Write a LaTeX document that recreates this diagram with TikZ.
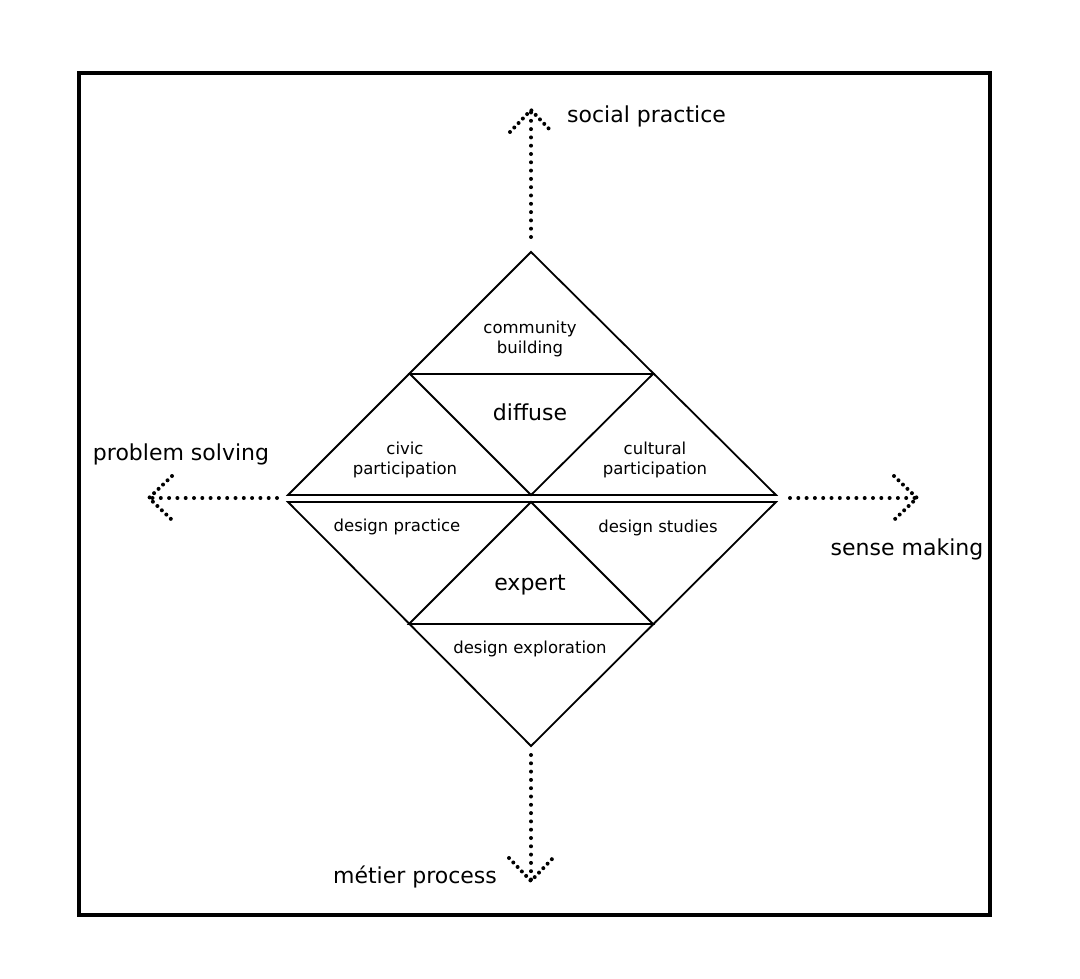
\documentclass[tikz,border=0pt]{standalone}
\usepackage{fontspec}
\setmainfont{DejaVu Sans}
\usetikzlibrary{positioning}
\tikzset{%
   edge/.style={line width=1.8pt, line join=miter},
   dotline/.style={line width=4pt, line cap=round, dash pattern=on 0pt off 8.3pt},
   dothead/.style={dotline, dash pattern=on 0pt off 6.2pt},
   axislabel/.style={font=\fontsize{22}{26}\selectfont, inner sep=0pt},
   part/.style={font=\fontsize{16.5}{20.5}\selectfont, align=center, inner sep=0pt},
   kind/.style={font=\fontsize{22}{26}\selectfont, inner sep=0pt},
}
\begin{document}
\begin{tikzpicture}[x=1pt, y=-1pt]
   \useasboundingbox (0,0) rectangle (1080,979);
   \draw[line width=3.4pt] (79,73) rectangle (990,915);
   % upper triangle
   \coordinate (top) at (531,252);
   \coordinate (ul) at (288,495);
   \coordinate (ur) at (776,495);
   \coordinate (ml) at (410,374);
   \coordinate (mr) at (653,374);
   \coordinate (cu) at (531,495);
   \draw[edge] (ul) -- (top) -- (ur) -- cycle;
   \draw[edge] (ml) -- (mr) -- (cu) -- cycle;
   % lower triangle
   \coordinate (bot) at (531,746);
   \coordinate (ll) at (288,502);
   \coordinate (lr) at (776,502);
   \coordinate (bl) at (409,624);
   \coordinate (br) at (653,624);
   \coordinate (cl) at (531,502);
   \draw[edge] (ll) -- (bot) -- (lr) -- cycle;
   \draw[edge] (bl) -- (br) -- (cl) -- cycle;
   % parts
   \node[part] (comm) at (530,339) {community\\building};
   \node[kind] (diff) at (530,412) {diffuse};
   \node[part] (civic) at (405,460) {civic\\participation};
   \node[part] (cult) at (655,460) {cultural\\participation};
   \node[part] (dprac) at (397,527) {design practice};
   \node[part] (dstud) at (658,528) {design studies};
   \node[kind] (exp) at (530,585) {expert};
   \node[part] (dexp) at (530,649) {design exploration};
   % axes
   \coordinate (n0) at (531,237);  \coordinate (n1) at (531,110);
   \coordinate (w0) at (277,498);  \coordinate (w1) at (149,498);
   \coordinate (e0) at (790,498);  \coordinate (e1) at (917,498);
   \coordinate (s0) at (531,755);  \coordinate (s1) at (531,881);
   \draw[dotline] (n0) -- (n1);
   \draw[dothead] ([shift={(-21,22)}]n1) -- (n1) -- ([shift={(21,22)}]n1);
   \draw[dotline] (w0) -- (w1);
   \draw[dothead] ([shift={(23,-22)}]w1) -- (w1) -- ([shift={(23,22)}]w1);
   \draw[dotline] (e0) -- (e1);
   \draw[dothead] ([shift={(-23,-22)}]e1) -- (e1) -- ([shift={(-23,22)}]e1);
   \draw[dotline] (s0) -- (s1);
   \draw[dothead] ([shift={(-22,-23)}]s1) -- (s1) -- ([shift={(22,-23)}]s1);
   \node[axislabel, anchor=west] (social) at (567,116) {social practice};
   \node[axislabel] (prob) at (181,454) {problem solving};
   \node[axislabel] (sense) at (907,549) {sense making};
   \node[axislabel] (metier) at (415,877) {métier process};
\end{tikzpicture}
\end{document}
